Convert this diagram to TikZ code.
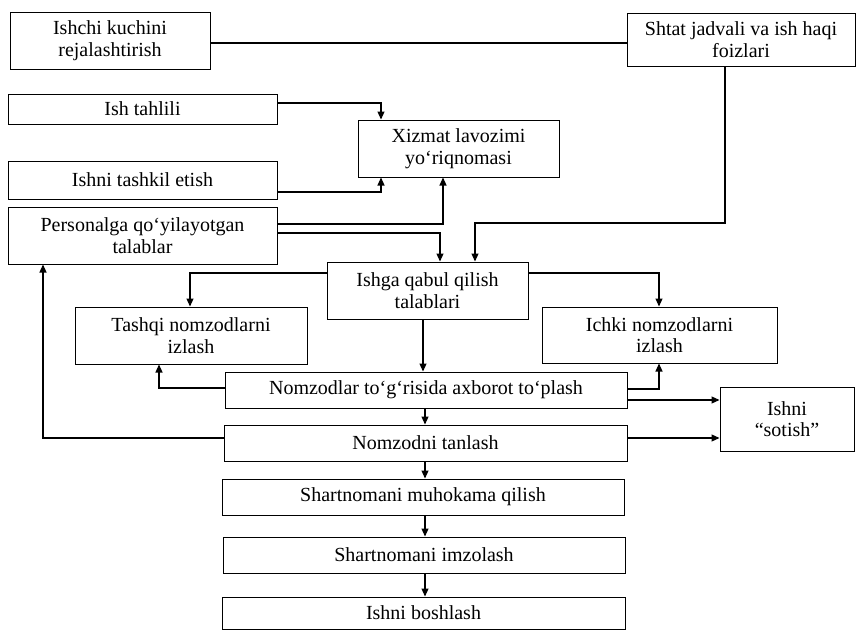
\documentclass[tikz,border=0pt]{standalone}
\usepackage{fontspec}
\setmainfont{Liberation Serif}
\usetikzlibrary{arrows.meta}
\begin{document}
\begin{tikzpicture}[x=1pt,y=-1pt,
  bx/.style={draw, line width=1pt, align=center, inner sep=2pt, font=\fontsize{20}{21.5}\selectfont},
  arr/.style={line width=1.1pt, -{Triangle[length=8pt,width=7pt]}},
  ln/.style={line width=1.1pt}]
\useasboundingbox (0,0) rectangle (857,632);
\node[bx, minimum width=200pt, minimum height=57pt] (A) at (110,40.5) {Ishchi kuchini\\rejalashtirish};
\node[bx, minimum width=228pt, minimum height=53pt] (B) at (741,39.5) {Shtat jadvali va ish haqi\\foizlari};
\node[bx, minimum width=269pt, minimum height=30pt] (C) at (142.5,109) {Ish tahlili};
\node[bx, minimum width=269pt, minimum height=38pt] (D) at (142.5,180) {Ishni tashkil etish};
\node[bx, minimum width=201pt, minimum height=57pt] (E) at (458.5,148.5) {Xizmat lavozimi\\yo‘riqnomasi};
\node[bx, minimum width=269pt, minimum height=57pt] (F) at (142.5,235.5) {Personalga qo‘yilayotgan\\talablar};
\node[bx, minimum width=201pt, minimum height=57pt] (G) at (427.5,290.5) {Ishga qabul qilish\\talablari};
\node[bx, minimum width=232pt, minimum height=57pt] (H) at (191,335.5) {Tashqi nomzodlarni\\izlash};
\node[bx, minimum width=235pt, minimum height=56pt] (I) at (659.5,335) {Ichki nomzodlarni\\izlash};
\node[bx, minimum width=402pt, minimum height=36pt] (J) at (426,390) {Nomzodlar to‘g‘risida axborot to‘plash};
\node[bx, minimum width=134pt, minimum height=64pt] (K) at (787,419) {Ishni\\“sotish”};
\node[bx, minimum width=403pt, minimum height=36pt] (L) at (425.5,443) {Nomzodni tanlash};
\node[bx, minimum width=402pt, minimum height=36pt] (M) at (423,497) {Shartnomani muhokama qilish};
\node[bx, minimum width=402pt, minimum height=36pt] (N) at (424,555) {Shartnomani imzolash};
\node[bx, minimum width=403pt, minimum height=32pt] (O) at (423.5,613) {Ishni boshlash};

\draw[ln] (A.east |- 0,43) -- (B.west |- 0,43);
\draw[arr] (C.east |- 0,103) -| (E.north -| 381,0);
\draw[arr] (D.east |- 0,192) -| (E.south -| 381,0);
\draw[arr] (F.east |- 0,224) -| (E.south -| 443,0);
\draw[arr] (F.east |- 0,233) -| (G.north -| 440,0);
\draw[arr] (B.south -| 725,0) -- (725,223) -| (G.north -| 475,0);
\draw[arr] (G.west |- 0,273) -| (H.north -| 190,0);
\draw[arr] (G.east |- 0,273) -| (I.north -| 659,0);
\draw[arr] (G.south -| 423,0) -- (J.north -| 423,0);
\draw[arr] (J.west |- 0,388) -| (H.south -| 159,0);
\draw[arr] (J.east |- 0,389) -| (I.south -| 659,0);
\draw[arr] (J.east |- 0,400) -- (K.west |- 0,400);
\draw[arr] (L.east |- 0,438) -- (K.west |- 0,438);
\draw[arr] (L.west |- 0,438) -| (F.south -| 43,0);
\draw[arr] (J.south -| 425,0) -- (L.north -| 425,0);
\draw[arr] (L.south -| 425,0) -- (M.north -| 425,0);
\draw[arr] (M.south -| 425,0) -- (N.north -| 425,0);
\draw[arr] (N.south -| 425,0) -- (O.north -| 425,0);
\end{tikzpicture}
\end{document}
